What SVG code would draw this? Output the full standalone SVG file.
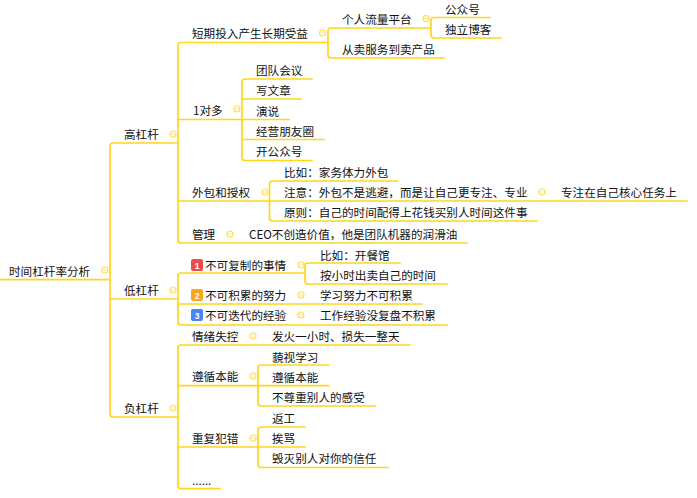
<svg xmlns="http://www.w3.org/2000/svg" width="697" height="498" viewBox="0 0 697 498">
<defs>
<style>
text{font-family:"Noto Sans CJK SC","Liberation Sans",sans-serif;font-size:11.6px;fill:#111;transform:translateY(.6px)}
.c path{fill:none;stroke:#FFD61A;stroke-width:1.7;stroke-linecap:round}
.f{fill:#fff;stroke:#FFDD50;stroke-width:1.1}
.m{stroke:#FFDD50;stroke-width:.9;fill:none}
.b{font-size:8.500px;font-weight:700;fill:#fff;text-anchor:middle;font-family:"Liberation Sans",sans-serif}
</style>
<g id="fold"><circle class="f" r="3"/><path class="m" d="M-1.500 0H1.500"/></g>
</defs>
<rect width="697" height="498" fill="#fff"/>
<g id="connectors" class="c">
<path d="M0 279.700H110M110 146V414M110 146Q110 143 113 143H178M110 299H178M110 414Q110 417 113 417H178"/>
<path d="M178 45.500V240M178 45.500Q178 42.500 181 42.500H328M178 119.500H242M178 201H269.500M178 240Q178 243 181 243H467"/>
<path d="M328 31V55M328 31Q328 28 331 28H430M328 55Q328 58 331 58H444"/>
<path d="M431 20.500V35M431 20.500Q431 17.500 434 17.500H490M431 35Q431 38 434 38H501"/>
<path d="M242 82V157.500M242 82Q242 79 245 79H312M242 99H301M242 119.500H289M242 139.500H324M242 157.500Q242 160.500 245 160.500H312"/>
<path d="M269.500 184V218M269.500 184Q269.500 181 272.500 181H398M269.500 201H687M269.500 218Q269.500 221 272.500 221H537"/>
<path d="M178 276V322M178 276Q178 273 181 273H305M178 304H422M178 322Q178 325 181 325H447"/>
<path d="M305 266V281M305 266Q305 263 308 263H400M305 281Q305 284 308 284H447"/>
<path d="M178 348V485.700M178 348Q178 345 181 345H410M178 385.700H258M178 447H258M178 485.700Q178 488.700 181 488.700H220"/>
<path d="M258 368V403M258 368Q258 365 261 365H328.600M258 385.700H328.600M258 403Q258 406 261 406H375"/>
<path d="M258 430V464.500M258 430Q258 427 261 427H305M258 447H305M258 464.500Q258 467.500 261 467.500H388"/>
</g>
<g id="root"><text x="9" y="275">时间杠杆率分析</text><use href="#fold" x="105" y="270"/></g>
<g id="n-high"><text x="124" y="138">高杠杆</text><use href="#fold" x="173" y="134"/></g>
<g id="n-short"><text x="192" y="37.500">短期投入产生长期受益</text><use href="#fold" x="322.500" y="33"/></g>
<g id="n-personal"><text x="342" y="23">个人流量平台</text><use href="#fold" x="426" y="18.500"/></g>
<g id="n-gzh"><text x="445" y="13">公众号</text></g>
<g id="n-blog"><text x="445" y="33">独立博客</text></g>
<g id="n-product"><text x="342" y="53">从卖服务到卖产品</text></g>
<g id="n-one"><text x="193" y="114">1对多</text><use href="#fold" x="237" y="109"/></g>
<g id="n-meeting"><text x="256" y="74">团队会议</text></g>
<g id="n-write"><text x="256" y="94">写文章</text></g>
<g id="n-speech"><text x="256" y="115">演说</text></g>
<g id="n-moments"><text x="256" y="135">经营朋友圈</text></g>
<g id="n-official"><text x="256" y="155">开公众号</text></g>
<g id="n-outsource"><text x="192" y="196">外包和授权</text><use href="#fold" x="265" y="192"/></g>
<g id="n-eg"><text x="284" y="176">比如：家务体力外包</text></g>
<g id="n-note"><text x="284" y="196">注意：外包不是逃避，而是让自己更专注、专业</text><use href="#fold" x="542" y="192"/></g>
<g id="n-focus"><text x="561" y="196">专注在自己核心任务上</text></g>
<g id="n-principle"><text x="284" y="216">原则：自己的时间配得上花钱买别人时间这件事</text></g>
<g id="n-manage"><text x="192" y="238">管理</text><use href="#fold" x="230" y="234"/></g>
<g id="n-ceo"><text x="249" y="238">CEO不创造价值，他是团队机器的润滑油</text></g>
<g id="n-low"><text x="124" y="294">低杠杆</text><use href="#fold" x="173" y="290"/></g>
<g id="n-copy"><rect x="191" y="259" width="12" height="12" rx="2" fill="#EE4B4B"/><text class="b" x="197" y="268">1</text><text x="205" y="269">不可复制的事情</text><use href="#fold" x="301" y="265"/></g>
<g id="n-restaurant"><text x="320" y="259">比如：开餐馆</text></g>
<g id="n-hourly"><text x="320" y="279">按小时出卖自己的时间</text></g>
<g id="n-accum"><rect x="191" y="289" width="12" height="12" rx="2" fill="#F9A61A"/><text class="b" x="197" y="298">2</text><text x="205" y="299">不可积累的努力</text><use href="#fold" x="301" y="295"/></g>
<g id="n-study"><text x="320" y="299">学习努力不可积累</text></g>
<g id="n-iter"><rect x="191" y="309" width="12" height="12" rx="2" fill="#4A86F0"/><text class="b" x="197" y="318">3</text><text x="205" y="319">不可迭代的经验</text><use href="#fold" x="301" y="315"/></g>
<g id="n-review"><text x="320" y="319">工作经验没复盘不积累</text></g>
<g id="n-neg"><text x="124" y="412">负杠杆</text><use href="#fold" x="173" y="408"/></g>
<g id="n-emotion"><text x="192" y="340">情绪失控</text><use href="#fold" x="253" y="336"/></g>
<g id="n-fire"><text x="272" y="340">发火一小时、损失一整天</text></g>
<g id="n-instinct"><text x="192" y="380">遵循本能</text><use href="#fold" x="253" y="376"/></g>
<g id="n-despise"><text x="272" y="361">藐视学习</text></g>
<g id="n-instinct2"><text x="272" y="381">遵循本能</text></g>
<g id="n-respect"><text x="272" y="401">不尊重别人的感受</text></g>
<g id="n-repeat"><text x="192" y="442">重复犯错</text><use href="#fold" x="253" y="438"/></g>
<g id="n-rework"><text x="272" y="422">返工</text></g>
<g id="n-scold"><text x="272" y="442">挨骂</text></g>
<g id="n-trust"><text x="272" y="462">毁灭别人对你的信任</text></g>
<g id="n-more"><text x="192" y="484">......</text></g>
</svg>
